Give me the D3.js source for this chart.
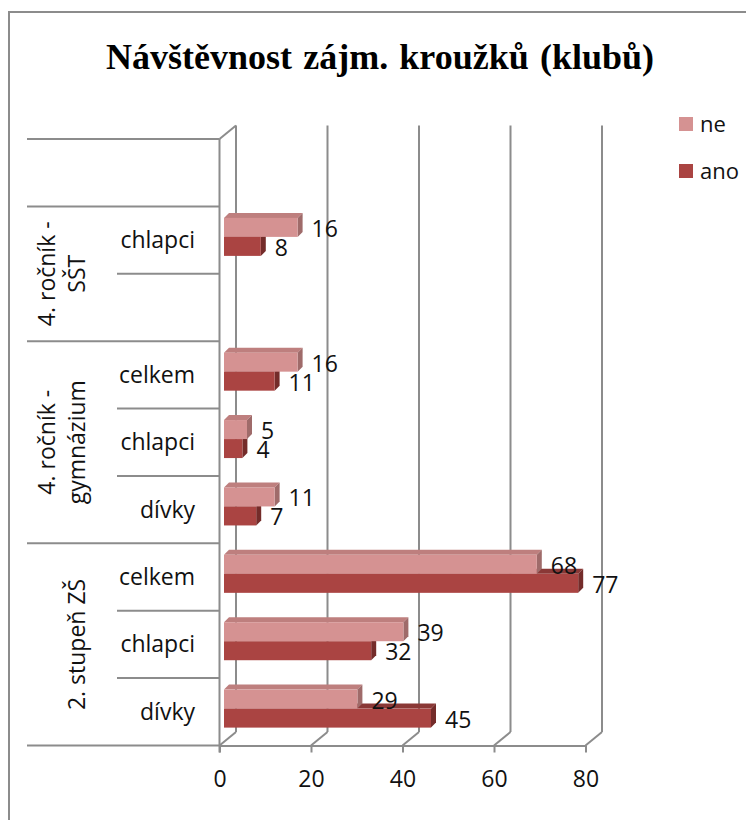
<!DOCTYPE html>
<html><head><meta charset="utf-8">
<script src="https://cdn.jsdelivr.net/npm/d3@7"></script>
<style>html,body{margin:0;padding:0;background:#fff;}</style>
</head><body>
<script>
// ---- data (rows listed top to bottom) ----
const titleText = "Návštěvnost zájm. kroužků (klubů)";
const seriesNames = ["ne", "ano"];
const categories = ["", "chlapci", "", "celkem", "chlapci", "dívky", "celkem", "chlapci", "dívky"];
const rowGroup = [0, 1, 1, 2, 2, 2, 3, 3, 3];
const groupLabels = [[], ["4. ročník -", "SŠT"], ["4. ročník -", "gymnázium"], ["2. stupeň ZŠ"]];
const neValues = [null, 16, null, 16, 5, 11, 68, 39, 29];
const anoValues = [null, 8, null, 11, 4, 7, 77, 32, 45];
const xTicks = [0, 20, 40, 60, 80];

// ---- layout ----
const W = 746, H = 820;
const FONT = "'Open Sans', 'DejaVu Sans', sans-serif";
const GRAY = "#8c8c8c";
const DX = 16.5, DY = -13.5;          // chart depth offset
const BDX = 5, BDY = -5;              // bar depth offset
const colors = {
  ne: {front: "#D59292", top: "#BE7F7E", side: "#9F6B6A"},
  ano: {front: "#AA4442", top: "#8A3836", side: "#742C2A"}
};

const svg = d3.select("body").append("svg").attr("width", W).attr("height", H)
  .style("font-family", FONT);

// outer frame (extends past the window)
svg.append("rect").attr("x", 9).attr("y", 12).attr("width", W + 20).attr("height", H + 20)
  .attr("fill", "none").attr("stroke", GRAY).attr("stroke-width", 2);

// title
const title = svg.append("text").attr("x", 380).attr("y", 69).attr("text-anchor", "middle")
  .style("font-family", "'Liberation Serif', 'Times New Roman', serif")
  .style("font-weight", "bold").style("font-size", "36px").text(titleText);
{
  const len = title.node().getComputedTextLength();
  const target = 548;
  const spaces = titleText.split(" ").length - 1;
  if (len < target) title.attr("word-spacing", (target - len) / spaces);
}

// scales
const x = d3.scaleLinear().domain([0, 80]).range([219.5, 585.5]);     // front floor axis
const xBar = d3.scaleLinear().domain([0, 80]).range([224, 592]);      // bar front faces
const y = d3.scaleBand().domain(d3.range(categories.length)).range([139, 745.5]);
const floorY = 745.5;
const bh = 19;

const g = svg.append("g");
const line = (x1, y1, x2, y2) => g.append("line").attr("x1", x1).attr("y1", y1).attr("x2", x2).attr("y2", y2)
  .attr("stroke", GRAY).attr("stroke-width", 2);

// back wall gridlines + floor diagonals
xTicks.forEach(t => {
  line(x(t) + DX, floorY + DY, x(t) + DX, y.range()[0] + DY);
  line(x(t), floorY, x(t) + DX, floorY + DY);
});
// left wall top edge
line(x(0), y.range()[0], x(0) + DX, y.range()[0] + DY);
// left wall front edge
line(x(0), y.range()[0], x(0), floorY + 7);

// category table lines
categories.forEach((c, i) => {
  const isGroupStart = i === 0 || rowGroup[i] !== rowGroup[i - 1];
  line(isGroupStart ? 27 : 117, y(i), x(0), y(i));
});
line(27, floorY, x(0), floorY);

// x axis (front floor)
const axis = d3.axisBottom(x).tickValues(xTicks).tickSize(7).tickSizeOuter(0).tickPadding(18);
const ax = svg.append("g").attr("transform", `translate(0,${floorY})`).call(axis);
ax.select(".domain").attr("stroke", GRAY).attr("stroke-width", 2);
ax.selectAll(".tick line").attr("stroke", GRAY).attr("stroke-width", 2);
ax.selectAll(".tick text").style("font-family", FONT).style("font-size", "23px").attr("fill", "#111");

// bars
function bar(val, top, col) {
  const x0 = xBar(0), x1 = xBar(val);
  const bg = svg.append("g");
  bg.append("path").attr("fill", col.top)
    .attr("d", `M${x0},${top}L${x0 + BDX},${top + BDY}L${x1 + BDX},${top + BDY}L${x1},${top}Z`);
  bg.append("path").attr("fill", col.side)
    .attr("d", `M${x1},${top}L${x1 + BDX},${top + BDY}L${x1 + BDX},${top + bh + BDY}L${x1},${top + bh}Z`);
  bg.append("rect").attr("x", x0).attr("y", top).attr("width", x1 - x0).attr("height", bh).attr("fill", col.front);
  svg.append("text").attr("x", x1 + 14).attr("y", top + bh / 2 + 9.5)
    .style("font-size", "23px").attr("fill", "#111").text(val);
}
categories.forEach((c, i) => {
  const rowTop = y(i);
  if (anoValues[i] != null) bar(anoValues[i], rowTop + 11.5 + bh, colors.ano);
  if (neValues[i] != null) bar(neValues[i], rowTop + 11.5, colors.ne);
});

// category labels
svg.append("g").selectAll("text").data(categories).join("text")
  .attr("x", 195).attr("y", (d, i) => y(i) + y.bandwidth() / 2)
  .attr("dy", "0.35em").attr("text-anchor", "end")
  .style("font-size", "23px").attr("fill", "#111").text(d => d);

// group labels (rotated)
groupLabels.forEach((lines, gi) => {
  const rows = d3.range(categories.length).filter(i => rowGroup[i] === gi);
  if (!rows.length || !lines.length) return;
  const cy = (y(rows[0]) + y(rows[rows.length - 1]) + y.bandwidth()) / 2;
  lines.forEach((t, li) => {
    const bx = 85 - (lines.length - 1 - li) * 30;
    svg.append("text").attr("transform", `translate(${bx},${cy}) rotate(-90)`)
      .attr("text-anchor", "middle").style("font-size", "23px").attr("fill", "#111").text(t);
  });
});

// legend
seriesNames.forEach((s, i) => {
  svg.append("rect").attr("x", 679).attr("y", 117 + i * 47).attr("width", 14).attr("height", 14)
    .attr("fill", colors[s].front);
  svg.append("text").attr("x", 700).attr("y", 132 + i * 47)
    .style("font-size", "22px").attr("fill", "#111").text(s);
});
</script>
</body></html>
